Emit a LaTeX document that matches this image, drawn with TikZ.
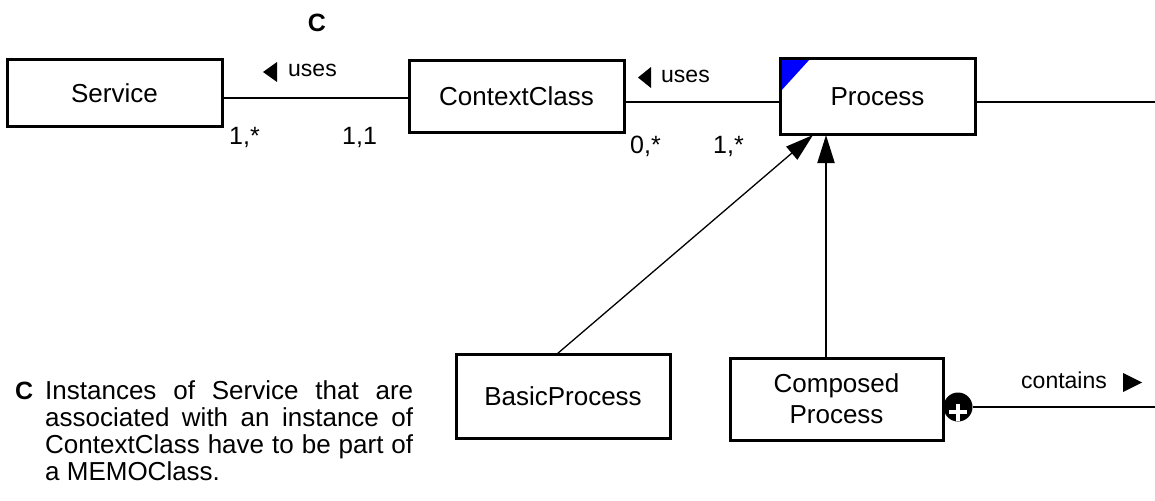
\documentclass[tikz,border=0pt]{standalone}
\usepackage{fontspec}
\setmainfont{Liberation Sans}
\usetikzlibrary{arrows.meta,calc}
\begin{document}
\begin{tikzpicture}[x=1pt,y=-1pt,
  box/.style={draw,line width=3pt,inner sep=0pt,outer sep=0pt,align=center,font=\fontsize{26}{31}\selectfont},
  conn/.style={line width=2pt},
  gen/.style={-{Triangle[length=28pt,width=17pt]}},
  lbl/.style={inner sep=0pt,anchor=base west,font=\fontsize{23}{27}\selectfont},
  mult/.style={inner sep=0pt,anchor=base west,font=\fontsize{25}{27}\selectfont},
  dirmark/.style={fill=black}]
\useasboundingbox (0,0) rectangle (1155,500);

% boxes
\node[box,minimum width=215pt,minimum height=66pt] (service) at (114.5,93) {Service};
\node[box,minimum width=215pt,minimum height=71pt] (context) at (516.5,96.5) {ContextClass};
\node[box,minimum width=195pt,minimum height=75pt,
  path picture={\fill[blue] (path picture bounding box.north west) -- ++(30pt,0pt) -- ++(-30pt,-33pt) -- cycle;}]
  (process) at (877.5,96.5) {Process};
\node[box,minimum width=214pt,minimum height=84pt] (basic) at (563,396) {BasicProcess};
\node[box,minimum width=213pt,minimum height=82pt] (composed) at (836.5,399) {Composed\\Process};

% free ends
\coordinate (pend) at (1155,102);
\coordinate (cend) at (1155,407);

% associations
\draw[conn] ([yshift=-5pt]service.east) coordinate (a1) -- (a1 -| context.west);
\draw[conn] ([yshift=-5.5pt]context.east) coordinate (a2) -- (a2 -| process.west);
\draw[conn] ([yshift=-5.5pt]process.east) -- (pend);

% generalisations
\draw[gen,line width=1.3pt] ([xshift=-6pt]basic.north) -- ([xshift=33pt,yshift=-1pt]process.south west);
\draw[gen,line width=2pt] ([xshift=-10.5pt]composed.north) coordinate (g2) -- ([yshift=-1pt]g2 |- process.south);

% composition
\node[circle,fill=black,inner sep=0pt,minimum size=29pt] (agg) at (958,407) {};
\draw[conn] (agg.east) -- (cend);
\draw[white,line width=4pt] ([xshift=-9pt,yshift=-5pt]agg.center) -- ([xshift=9pt,yshift=-5pt]agg.center);
\draw[white,line width=4pt] ([yshift=3.5pt]agg.center) -- ([yshift=-13.5pt]agg.center);

% labels
\node[inner sep=0pt,anchor=base,font=\fontsize{25}{27}\selectfont\bfseries] (ctop) at (317,32) {C};
\node[lbl] (uses1) at (288,77) {uses};
\fill[dirmark] (263,72) -- (277,62) -- (277,82) -- cycle;
\node[lbl] (uses2) at (661,83) {uses};
\fill[dirmark] (638,77.5) -- (651,67) -- (651,88) -- cycle;
\node[lbl] (contains) at (1021,388) {contains};
\fill[dirmark] (1123,373) -- (1142,382.5) -- (1123,392) -- cycle;

\node[mult] (m1) at (229,144) {1,*};
\node[mult] (m2) at (342,144) {1,1};
\node[mult] (m3) at (630,153) {0,*};
\node[mult] (m4) at (713,153) {1,*};

% note
\node[inner sep=0pt,anchor=base west,font=\fontsize{25}{27}\selectfont\bfseries] (cnote) at (15,399) {C};
\node[inner sep=0pt,anchor=base west] (note) at (45,399)
  {\parbox[t]{368pt}{\fontsize{26}{27}\selectfont\hbadness=10000
   Instances of Service that are\linebreak
   associated with an instance of\linebreak
   ContextClass have to be part of\linebreak
   a MEMOClass.}};
\end{tikzpicture}
\end{document}
